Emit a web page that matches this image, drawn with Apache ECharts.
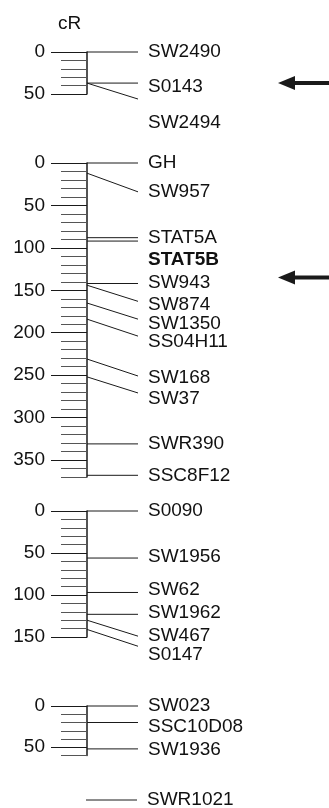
<!DOCTYPE html>
<html>
<head>
<meta charset="utf-8">
<script src="https://cdn.jsdelivr.net/npm/echarts@6/dist/echarts.min.js"></script>
<style>
  html, body { margin: 0; padding: 0; background: #fff; }
  #main { width: 329px; height: 808px; }
</style>
</head>
<body>
<div id="main"></div>
<script>
// linkage groups: marker names, position on the map (cR),
// where the connector meets the name column, and where the name sits (cR)
var g1Names = ["SW2490", "S0143", "SW2494"];
var g1Pos = [0, 37, 37];
var g1Ends = [0, 37, 56];
var g1Labels = [0, 41, 84];

var g2Names = ["GH", "SW957", "STAT5A", "STAT5B", "SW943", "SW874", "SW1350", "SS04H11", "SW168", "SW37", "SWR390", "SSC8F12"];
var g2Pos = [0, 12, 88, 92, 142, 144, 165, 184, 231, 252, 331, 368];
var g2Ends = [0, 34, 88, 92, 142, 163, 184, 204, 251, 271, 331, 368];
var g2Labels = [0, 34, 88, 114, 141, 167, 189, 211, 253, 278, 331, 368];

var g3Names = ["S0090", "SW1956", "SW62", "SW1962", "SW467", "S0147"];
var g3Pos = [0, 56, 97, 123, 130, 141];
var g3Ends = [0, 56, 97, 123, 149, 161];
var g3Labels = [0, 55, 94, 121, 149, 171];

var g4Names = ["SW023", "SSC10D08", "SW1936"];
var g4Pos = [0, 20, 52];
var g4Ends = [0, 20, 52];
var g4Labels = [0, 25, 53];

var unlinkedNames = ["SWR1021"];

// axis lengths (cR) and labelled ticks
var groupMax = [50, 370, 150, 60];
var majorTicks = [
  [0, 50],
  [0, 50, 100, 150, 200, 250, 300, 350],
  [0, 50, 100, 150],
  [0, 50]
];

// arrows: [group, cR]
var arrows = [[0, 37], [1, 135]];
var boldNames = ["STAT5B"];

var FONT = "'Liberation Sans', Arial, Helvetica, sans-serif";
var INK = "#1a1a1a";

var gridTops = [52, 163, 511, 706, 800];
var gridHeights = [42, 314, 126, 49.5, 10];

var myChart = echarts.init(document.getElementById("main"));

var grids = [], xAxes = [], yAxes = [], series = [];

function groupData(names, pos, ends, labels) {
  return names.map(function (n, i) {
    return [pos[i], ends[i], labels[i], n];
  });
}

var groups = [
  groupData(g1Names, g1Pos, g1Ends, g1Labels),
  groupData(g2Names, g2Pos, g2Ends, g2Labels),
  groupData(g3Names, g3Pos, g3Ends, g3Labels),
  groupData(g4Names, g4Pos, g4Ends, g4Labels),
  groupData(unlinkedNames, [0], [0], [0])
];

function renderMarker(params, api) {
  var p0 = api.coord([0, api.value(0)]);
  var p1 = api.coord([1, api.value(1)]);
  var pl = api.coord([1, api.value(2)]);
  var name = api.value(3);
  return {
    type: "group",
    children: [
      {
        type: "line",
        shape: { x1: p0[0], y1: p0[1], x2: p1[0], y2: p1[1] },
        style: { stroke: INK, lineWidth: 1 }
      },
      {
        type: "text",
        x: p1[0] + 10,
        y: pl[1],
        style: {
          text: name,
          fill: "#111",
          font: (boldNames.indexOf(name) >= 0 ? "bold " : "") + "19px " + FONT,
          textAlign: "left",
          textVerticalAlign: "middle"
        }
      }
    ]
  };
}

for (var g = 0; g < 5; g++) {
  grids.push({ left: g === 4 ? 86 : 87, width: 51, top: gridTops[g], height: gridHeights[g] });
  xAxes.push({ gridIndex: g, type: "value", min: 0, max: 1, show: false });
}

var yIndex = [];
for (var k = 0; k < 4; k++) {
  // minor ticks every 10 cR plus the axis line
  yAxes.push({
    gridIndex: k, type: "value", inverse: true, min: 0, max: groupMax[k],
    interval: 10, position: "left",
    axisLine: { show: true, lineStyle: { color: INK, width: 1.5 } },
    axisTick: { show: true, length: 26, lineStyle: { color: "#555", width: 1 } },
    axisLabel: { show: false },
    splitLine: { show: false }
  });
  yIndex.push(yAxes.length - 1);
  // long ticks with labels
  yAxes.push({
    gridIndex: k, type: "value", inverse: true, min: 0, max: groupMax[k],
    position: "left", offset: 0,
    axisLine: { show: false },
    axisTick: { show: true, length: 36, customValues: majorTicks[k], lineStyle: { color: INK, width: 1 } },
    axisLabel: { show: true, customValues: majorTicks[k], margin: 42, fontSize: 19, color: "#111", fontFamily: FONT },
    splitLine: { show: false }
  });
}
yAxes.push({ gridIndex: 4, type: "value", inverse: true, min: 0, max: 10, show: false });
yIndex.push(yAxes.length - 1);

groups.forEach(function (data, i) {
  series.push({
    type: "custom",
    xAxisIndex: i,
    yAxisIndex: yIndex[i],
    clip: false,
    renderItem: renderMarker,
    data: data
  });
});

// arrows pointing at the region of interest
series.push({
  type: "custom",
  coordinateSystem: "none",
  silent: true,
  renderItem: function (params, api) {
    var a = arrows[params.dataIndex];
    var y = myChart.convertToPixel({ gridIndex: a[0] }, [0, a[1]])[1];
    return {
      type: "group",
      children: [
        { type: "polygon", shape: { points: [[278, y], [295, y - 7], [295, y + 7]] }, style: { fill: INK } },
        { type: "rect", shape: { x: 293, y: y - 2, width: 36, height: 4 }, style: { fill: INK } }
      ]
    };
  },
  data: arrows.map(function (a, i) { return [i]; })
});

var option = {
  animation: false,
  title: {
    text: "cR", left: 53, top: 9,
    textStyle: { fontSize: 19, fontWeight: "normal", color: "#111", fontFamily: FONT }
  },
  grid: grids,
  xAxis: xAxes,
  yAxis: yAxes,
  series: []
};

myChart.setOption(option);
option.series = series;
myChart.setOption(option);
</script>
</body>
</html>
